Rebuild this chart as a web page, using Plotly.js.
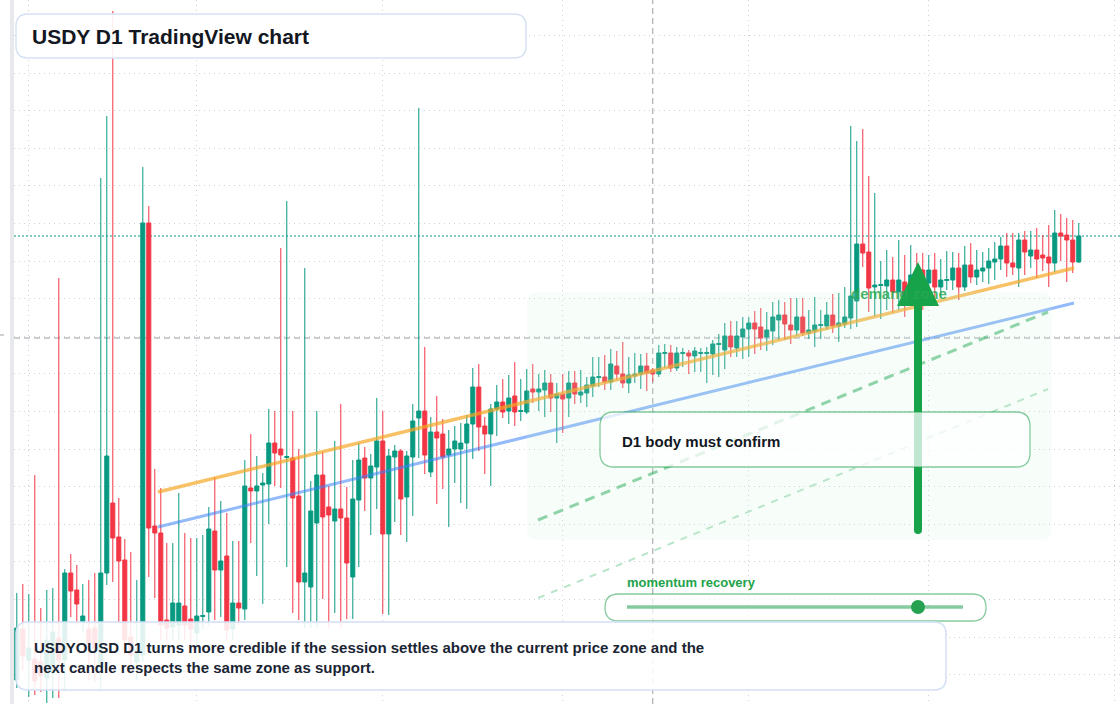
<!DOCTYPE html>
<html><head><meta charset="utf-8">
<script src="https://cdn.plot.ly/plotly-3.0.1.min.js"></script>
<style>html,body{margin:0;padding:0;background:#fff;overflow:hidden}#chart{width:1120px;height:704px}</style>
</head><body><div id="chart"></div>
<script>
// USDY/USD daily candles, 2025-01-30 .. 2025-07-26
const OPEN=[
1.0524,1.0575,1.0544,1.0545,1.0542,1.0526,1.0531,1.0566,1.0544,1.0631,
1.0614,1.0582,1.0575,1.0576,1.0536,1.0631,1.0701,1.0667,1.0644,1.0567,
1.0542,1.0549,1.0981,1.0678,1.0671,1.0584,1.0577,1.0579,1.0598,1.0585,
1.0571,1.05875,1.0592,1.0673,1.0634,1.0648,1.0575,1.0601,1.0595,1.0716,
1.0713,1.0719,1.0720,1.0761,1.0755,1.07465,1.0746,1.0708,1.0622,1.0617,
1.0681,1.0729,1.0697,1.0683,1.0695,1.0686,1.0627,1.0704,1.0746,1.0726,
1.0737,1.0763,1.0670,1.0747,1.0753,1.0707,1.0747,1.0786,1.0793,1.0732,
1.0772,1.0770,1.0749,1.0755,1.0755,1.0761,1.0780,1.0817,1.0778,1.0770,
1.0795,1.0802,1.0793,1.0808,1.07925,1.0792,1.0815,1.0812,1.0814,1.0821,
1.0806,1.0810,1.0806,1.0821,1.0809,1.0811,1.0818,1.08265,1.0827,1.0822,
1.0838,1.0830,1.0821,1.0828,1.0830,1.0838,1.0834,1.0830,1.08505,1.0851,
1.0836,1.08505,1.0851,1.0848,1.08505,1.08505,1.0850,1.08595,1.0854,1.0868,
1.0856,1.0867,1.0875,1.0881,1.0877,1.0867,1.0873,1.0884,1.0889,1.0879,
1.0874,1.0887,1.0871,1.0873,1.08785,1.0878,1.0889,1.0878,1.0880,1.0886,
1.0903,1.0960,1.0952,1.0917,1.09185,1.0918,1.0924,1.0912,1.0922,1.0919,
1.0932,1.0934,1.0921,1.0934,1.0917,1.09235,1.0924,1.0936,1.0917,1.0939,
1.0927,1.0933,1.0936,1.0942,1.0945,1.0958,1.0941,1.0936,1.0964,1.0948,
1.0954,1.0949,1.0947,1.0941,1.0971,1.0969,1.0964,1.0942];
const HIGH=[
1.0611,1.0620,1.0610,1.0729,1.0596,1.0614,1.0616,1.0926,1.0635,1.0650,
1.0639,1.0620,1.0624,1.0631,1.1026,1.1088,1.1193,1.0706,1.0665,1.0652,
1.0624,1.1037,1.0998,1.0735,1.0716,1.0661,1.0661,1.0711,1.0671,1.0666,
1.0666,1.0669,1.0697,1.0727,1.0703,1.0691,1.0663,1.0663,1.0744,1.0770,
1.0748,1.0731,1.0795,1.0793,1.0956,1.1003,1.0793,1.0755,1.0936,1.0723,
1.0793,1.0752,1.0718,1.0763,1.0800,1.0717,1.0744,1.0761,1.0757,1.0750,
1.0806,1.0793,1.0755,1.0759,1.0755,1.0753,1.0800,1.1096,1.0857,1.0787,
1.0808,1.0785,1.0774,1.0778,1.0781,1.0789,1.0836,1.0840,1.0787,1.0800,
1.0819,1.0825,1.0829,1.0842,1.0825,1.0835,1.0840,1.0830,1.0834,1.0830,
1.0821,1.0830,1.0833,1.0833,1.0834,1.0827,1.0847,1.0847,1.0849,1.0855,
1.0853,1.0862,1.0847,1.0851,1.0850,1.0851,1.0836,1.0859,1.0860,1.0859,
1.0857,1.0856,1.0854,1.0857,1.0856,1.0857,1.0864,1.0870,1.0881,1.0883,
1.0883,1.0887,1.0887,1.0893,1.0896,1.0892,1.0902,1.0904,1.0902,1.0906,
1.0906,1.0906,1.0894,1.0907,1.0894,1.0902,1.0910,1.0911,1.0917,1.1078,
1.1063,1.1075,1.1028,1.1011,1.0943,1.0954,1.0947,1.0964,1.0949,1.0959,
1.0951,1.0951,1.0949,1.0951,1.0945,1.0953,1.0952,1.0951,1.0958,1.0961,
1.0954,1.0952,1.0956,1.0962,1.0967,1.0971,1.0971,1.0971,1.0973,1.0973,
1.0976,1.0969,1.0979,1.0994,1.0990,1.0986,1.0984,1.0981];
const LOW=[
1.0516,1.0534,1.0507,1.0509,1.0512,1.0501,1.0506,1.0506,1.0514,1.0587,
1.0579,1.0572,1.0524,1.0522,1.0514,1.0619,1.0622,1.0582,1.0549,1.0529,
1.0524,1.0542,1.0627,1.0606,1.0564,1.0559,1.0564,1.0564,1.0564,1.0559,
1.0554,1.0574,1.0579,1.0584,1.0587,1.0564,1.0564,1.0579,1.0584,1.0661,
1.0628,1.0600,1.0680,1.0718,1.0716,1.0637,1.0591,1.0584,1.0576,1.0576,
1.0576,1.0605,1.0576,1.0591,1.0576,1.0585,1.0585,1.0637,1.0693,1.0669,
1.0695,1.0590,1.0589,1.0682,1.0669,1.0662,1.0688,1.0746,1.0730,1.0727,
1.0700,1.0715,1.0677,1.0721,1.0701,1.0695,1.0745,1.0753,1.0730,1.0718,
1.0768,1.0786,1.0780,1.0778,1.0783,1.0790,1.0801,1.0793,1.0787,1.0792,
1.0761,1.0771,1.0787,1.0800,1.0801,1.0797,1.0807,1.0817,1.0814,1.0814,
1.0824,1.0816,1.0811,1.0821,1.0815,1.0813,1.0822,1.0827,1.0836,1.0832,
1.0833,1.0837,1.0830,1.0832,1.0832,1.0821,1.0829,1.0827,1.0835,1.0847,
1.0847,1.0845,1.0847,1.0850,1.0854,1.0853,1.0859,1.0864,1.0864,1.0860,
1.0868,1.0868,1.0865,1.0857,1.0865,1.0874,1.0871,1.0862,1.0876,1.0875,
1.0877,1.0937,1.0892,1.0888,1.0885,1.0894,1.0891,1.0894,1.0887,1.0899,
1.0904,1.0894,1.0914,1.0899,1.0907,1.0914,1.0914,1.0904,1.0913,1.0921,
1.0919,1.0922,1.0920,1.0924,1.0934,1.0927,1.0929,1.0917,1.0929,1.0936,
1.0926,1.0933,1.0917,1.0932,1.0943,1.0922,1.0931,1.0941];
const CLOSE=[
1.0576,1.0548,1.0556,1.0523,1.0528,1.0564,1.0572,1.0544,1.0631,1.0613,
1.0600,1.0588,1.0560,1.0556,1.0631,1.0748,1.0666,1.0643,1.0564,1.0549,
1.0554,1.0981,1.0676,1.0671,1.0579,1.0576,1.0601,1.0601,1.0579,1.0575,
1.0588,1.05885,1.0675,1.0634,1.0643,1.0574,1.0601,1.0596,1.0718,1.0713,
1.0718,1.0721,1.0761,1.0751,1.0749,1.07475,1.0706,1.0622,1.0631,1.0693,
1.0729,1.0687,1.0689,1.0695,1.0686,1.0641,1.0705,1.0744,1.0726,1.0738,
1.0763,1.0670,1.0748,1.0753,1.0705,1.0748,1.0783,1.0793,1.0749,1.0772,
1.0766,1.0747,1.0755,1.0763,1.0761,1.0780,1.0817,1.0777,1.0770,1.0795,
1.0802,1.0792,1.0806,1.0792,1.07935,1.0813,1.0812,1.0815,1.0821,1.0806,
1.0810,1.0805,1.0821,1.0810,1.0812,1.0819,1.0827,1.08275,1.0822,1.0840,
1.0830,1.0821,1.0829,1.0830,1.0838,1.0831,1.0830,1.0851,1.08515,1.0836,
1.0851,1.08515,1.0848,1.0853,1.08515,1.08515,1.0860,1.08605,1.0868,1.0857,
1.0868,1.0875,1.0881,1.0875,1.0866,1.0874,1.0887,1.0889,1.0880,1.0874,
1.0887,1.0871,1.0874,1.0879,1.08795,1.0889,1.0878,1.0881,1.0887,1.0908,
1.0960,1.0951,1.0916,1.0919,1.09195,1.0924,1.0912,1.0924,1.0907,1.0929,
1.0920,1.0919,1.0934,1.0917,1.0924,1.09245,1.0936,1.0917,1.0939,1.0927,
1.0934,1.0936,1.0943,1.0945,1.0958,1.0941,1.0937,1.0964,1.0952,1.0954,
1.0945,1.0946,1.0941,1.0971,1.0968,1.0964,1.0942,1.0968];

// drawn analysis lines (date, price)
const TREND_X=['2025-02-22 12:43','2025-07-25 04:48'];
const RESIST_Y=[1.0712,1.0936];   // orange channel line
const SUPPORT_Y=[1.0677,1.0901];  // blue channel line
const PROJ_X=['2025-04-26 20:53','2025-07-20 20:53'];
const PROJ_FAST_Y=[1.0684,1.0892];
const PROJ_SLOW_Y=[1.0606,1.0815];
const CROSS_X='2025-05-16';
const CROSS_Y=1.0866;

const dates=[];
for(let i=0;i<CLOSE.length;i++){dates.push(new Date(Date.UTC(2025,0,30)+i*864e5).toISOString().slice(0,10));}
const LAST=CLOSE[CLOSE.length-1];

const ML=14,PW=1106,PH=704;
const X=v=>(v-ML)/PW, Y=v=>1-v/PH;
function rr(x0,y0,x1,y1,r){
 return `M${X(x0+r)},${Y(y0)} L${X(x1-r)},${Y(y0)} Q${X(x1)},${Y(y0)} ${X(x1)},${Y(y0+r)} L${X(x1)},${Y(y1-r)} Q${X(x1)},${Y(y1)} ${X(x1-r)},${Y(y1)} L${X(x0+r)},${Y(y1)} Q${X(x0)},${Y(y1)} ${X(x0)},${Y(y1-r)} L${X(x0)},${Y(y0+r)} Q${X(x0)},${Y(y0)} ${X(x0+r)},${Y(y0)} Z`;
}
const P={xref:'paper',yref:'paper'};
const GREEN='#16a34a';
const shapes=[
 Object.assign({type:'rect',x0:X(10),x1:X(14),y0:0,y1:1,fillcolor:'#e8e9ec',line:{width:0},layer:'above'},P),
 Object.assign({type:'line',x0:X(0),x1:X(4),y0:Y(335),y1:Y(335),line:{color:'#9aa0a6',width:1}},P),
 {type:'line',xref:'x',yref:'paper',x0:CROSS_X,x1:CROSS_X,y0:0,y1:1,line:{color:'#9a9da5',width:1,dash:'6px,4px'},layer:'below'},
 {type:'line',xref:'paper',yref:'y',x0:0,x1:1,y0:CROSS_Y,y1:CROSS_Y,line:{color:'#9a9da5',width:1,dash:'6px,4px'},layer:'below'},
 {type:'line',xref:'paper',yref:'y',x0:0,x1:1,y0:LAST,y1:LAST,line:{color:'#089981',width:1,dash:'2px,2px'},layer:'below'},
 Object.assign({type:'path',path:rr(527,292,1052,540,12),fillcolor:'rgba(200,240,212,0.14)',line:{width:0},layer:'above'},P),
 Object.assign({type:'line',x0:X(918),x1:X(918),y0:Y(530),y1:Y(304),line:{color:GREEN,width:8},layer:'above'},P),
 Object.assign({type:'circle',x0:X(914),x1:X(922),y0:Y(526),y1:Y(534),fillcolor:GREEN,line:{width:0},layer:'above'},P),
 Object.assign({type:'path',path:`M${X(918)},${Y(262)} L${X(897)},${Y(306)} L${X(939)},${Y(306)} Z`,fillcolor:GREEN,line:{width:0},layer:'above'},P),
 Object.assign({type:'path',path:rr(600,412,1030,467,14),fillcolor:'rgba(255,255,255,0.74)',line:{color:'rgba(34,160,80,0.55)',width:1.3},layer:'above'},P),
 Object.assign({type:'path',path:rr(605,594,986,621,13.5),fillcolor:'rgba(255,255,255,0.7)',line:{color:'rgba(34,160,80,0.55)',width:1.3},layer:'above'},P),
 Object.assign({type:'line',x0:X(627),x1:X(963),y0:Y(607),y1:Y(607),line:{color:'rgba(34,160,80,0.55)',width:3.5},layer:'above'},P),
 Object.assign({type:'circle',x0:X(911),x1:X(925),y0:Y(600),y1:Y(614),fillcolor:'#25a150',line:{width:0},layer:'above'},P),
 Object.assign({type:'path',path:rr(16,14,526,58,12),fillcolor:'rgba(255,255,255,0.9)',line:{color:'#d5e2f5',width:1.5},layer:'above'},P),
 Object.assign({type:'path',path:rr(16,622,946,690,12),fillcolor:'rgba(255,255,255,0.87)',line:{color:'#d3e0f6',width:1.5},layer:'above'},P)
];
const F='Liberation Sans, Arial, sans-serif';
const ann=(x,y,text,size,color,extra)=>Object.assign({xref:'paper',yref:'paper',x:X(x),y:Y(y),xanchor:'left',yanchor:'middle',align:'left',showarrow:false,text:text,font:{family:F,size:size,color:color}},extra||{});
const annotations=[
 ann(30,36,'<b>USDY D1 TradingView chart</b>',21,'#131722'),
 ann(849,293,'<b>demand zone</b>',15,'rgba(40,168,80,0.85)'),
 ann(620,441,'<b>D1 body must confirm</b>',15,'#131722'),
 ann(625,582,'<b>momentum recovery</b>',13,'#22a34a'),
 ann(32,657,'<b>USDYOUSD D1 turns more credible if the session settles above the current price zone and the</b><br><b>next candle respects the same zone as support.</b>',15,'#1a2433')
];

const traces=[
 {type:'candlestick',x:dates,open:OPEN,high:HIGH,low:LOW,close:CLOSE,whiskerwidth:0,hoverinfo:'skip',
  increasing:{line:{color:'#089981',width:1},fillcolor:'#089981'},
  decreasing:{line:{color:'#f23645',width:1},fillcolor:'#f23645'}},
 {type:'scatter',mode:'lines',x:TREND_X,y:RESIST_Y,line:{color:'rgba(245,166,35,0.7)',width:3.5},hoverinfo:'skip'},
 {type:'scatter',mode:'lines',x:TREND_X,y:SUPPORT_Y,line:{color:'rgba(59,130,246,0.55)',width:3},hoverinfo:'skip'},
 {type:'scatter',mode:'lines',x:PROJ_X,y:PROJ_FAST_Y,line:{color:'rgba(34,170,85,0.55)',width:3,dash:'10px,7px'},hoverinfo:'skip'},
 {type:'scatter',mode:'lines',x:PROJ_X,y:PROJ_SLOW_Y,line:{color:'rgba(34,170,85,0.32)',width:2,dash:'7px,7px'},hoverinfo:'skip'}
];
const layout={
 width:1120,height:704,margin:{l:14,r:0,t:0,b:0,pad:0},
 paper_bgcolor:'#ffffff',plot_bgcolor:'#ffffff',showlegend:false,
 font:{family:F},boxgap:0.25,boxgroupgap:0.1,
 xaxis:{type:'date',range:['2025-01-29 12:48','2025-08-01 20:53'],tick0:'2025-01-01',dtick:'M1',
  showgrid:true,gridcolor:'#cfd3d9',griddash:'1px,4px',gridwidth:1,showticklabels:false,ticks:'',zeroline:false,showline:false,
  rangeslider:{visible:false},fixedrange:true},
 yaxis:{range:[1.05,1.1204],tick0:1.05294,dtick:0.00376,showgrid:true,gridcolor:'#cfd3d9',griddash:'1px,4px',gridwidth:1,
  showticklabels:false,ticks:'',zeroline:false,showline:false,fixedrange:true},
 shapes:shapes,annotations:annotations
};
Plotly.newPlot('chart',traces,layout,{staticPlot:true,displayModeBar:false});
</script></body></html>
